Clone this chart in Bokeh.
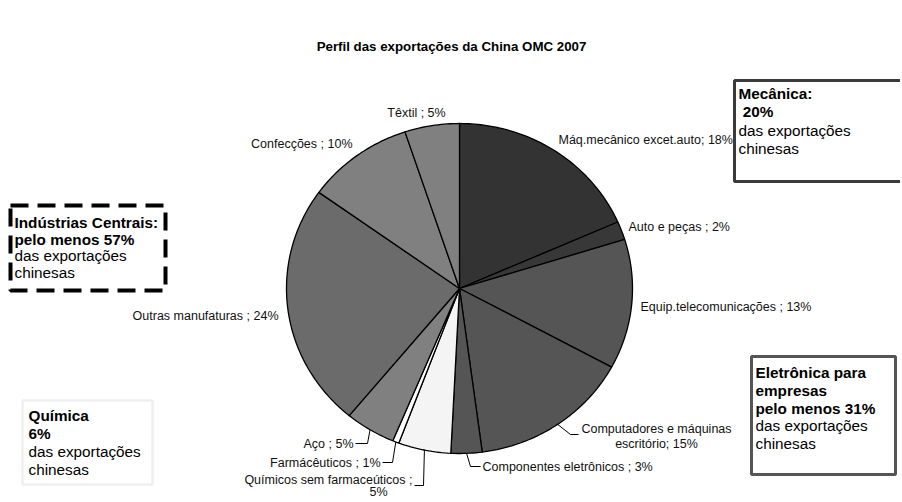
import math
from bokeh.plotting import figure
from bokeh.models import Range1d
from bokeh.core.properties import value
from bokeh.embed import file_html
from bokeh.resources import INLINE

# ---------------- data ----------------
categories = ["Máq.mecânico excet.auto", "Auto e peças ", "Equip.telecomunicações ",
              "Computadores e máquinas escritório", "Componentes eletrônicos ",
              "Químicos sem farmaceúticos ", "Farmácêuticos ", "Aço ",
              "Outras manufaturas ", "Confecções ", "Têxtil "]
shares = [18.4, 1.8, 12.7, 15.0, 2.9, 4.9, 0.6, 4.7, 23.9, 10.0, 5.1]
colors = ["#333333", "#383838", "#555555", "#555555", "#555555", "#f4f4f4",
          "#ffffff", "#808080", "#6b6b6b", "#808080", "#808080"]
title = "Perfil das exportações da China OMC 2007"

boxes_lines = [
    [("Mecânica:", "bold"), ("\u00a020%", "bold"), ("das exportações", "normal"), ("chinesas", "normal")],
    [("Indústrias Centrais:", "bold"), ("pelo menos 57%", "bold"), ("das exportações", "normal"), ("chinesas", "normal")],
    [("Eletrônica para", "bold"), ("empresas", "bold"), ("pelo menos 31%", "bold"), ("das exportações", "normal"), ("chinesas", "normal")],
    [("Química", "bold"), ("6%", "bold"), ("das exportações", "normal"), ("chinesas", "normal")],
]

# ---------------- layout (page pixel coordinates) ----------------
W, H = 900, 500
CX, CY, RX, RY = 459, 288, 173, 165
FONT = value("Liberation Sans")
LBL = "12.5px"
BOXFONT = "15.3px"

label_layout = {
    0: [(558, 139, "left")],
    1: [(628, 226, "left")],
    2: [(640, 306, "left")],
    3: [(656, 428, "center"), (656, 443, "center")],
    4: [(482, 466, "left")],
    5: [(412, 479, "right"), (378, 491.5, "center")],
    6: [(380, 462, "right")],
    7: [(353, 443, "right")],
    8: [(278, 315, "right")],
    9: [(352, 143, "right")],
    10: [(416, 112, "center")],
}
leader_elbows = {
    3: [(570, 434), (578, 434)],
    4: [(470, 466), (480, 466)],
    5: [(423, 485), (414, 485)],
    6: [(392, 462), (382, 462)],
    7: [(367, 443), (355, 443)],
}
box_rects = [  # left, top, right, bottom, color, width, dash
    (734, 80, 906, 181, "#3a3a3a", 3, "solid"),
    (10, 205, 165, 290, "#000000", 4, "18 9"),
    (751, 356, 895, 474, "#555555", 3, "solid"),
    (22, 400, 152, 484, "#efefef", 2.5, "solid"),
]
box_text = [  # x, first line y, line spacing
    (738, 93, 18.3),
    (14, 222, 16.5),
    (755, 372, 17.8),
    (28, 415, 18),
]

p = figure(width=W, height=H, output_backend="svg", toolbar_location=None,
           x_range=Range1d(0, W), y_range=Range1d(H, 0),
           min_border=0, outline_line_color=None)
p.axis.visible = False
p.grid.visible = False
p.background_fill_color = "white"
p.border_fill_color = "white"

# ---------------- pie ----------------
total = sum(shares)
cum = 0.0
xs, ys, mids = [], [], []
for s in shares:
    a0 = cum / total * 2 * math.pi
    a1 = (cum + s) / total * 2 * math.pi
    n = max(3, int((a1 - a0) / (2 * math.pi) * 360))
    px = [CX]
    py = [CY]
    for k in range(n + 1):
        t = a0 + (a1 - a0) * k / n
        px.append(CX + RX * math.sin(t))
        py.append(CY - RY * math.cos(t))
    xs.append(px)
    ys.append(py)
    tm = (a0 + a1) / 2
    mids.append((CX + RX * math.sin(tm), CY - RY * math.cos(tm)))
    cum += s
p.patches(xs, ys, fill_color=colors, line_color="black", line_width=1.3)

# ---------------- labels ----------------
tx, ty, tt, ta = [], [], [], []
for i, (name, s) in enumerate(zip(categories, shares)):
    sep = "; " if name.endswith(" ") or i == 0 else " ; "
    pct = f"{round(s)}%"
    full = f"{name}{sep}{pct}"
    pos = label_layout[i]
    if i == 3:
        lines = ["Computadores e máquinas", f"escritório; {pct}"]
    elif i == 5:
        lines = [f"{name};", pct]
    else:
        lines = [full]
    for line, (x, y, al) in zip(lines, pos):
        tx.append(x); ty.append(y); tt.append(line); ta.append(al)
for al in ("left", "center", "right"):
    idx = [k for k in range(len(tt)) if ta[k] == al]
    p.text([tx[k] for k in idx], [ty[k] for k in idx], text=[tt[k] for k in idx],
           text_font=FONT, text_font_size=LBL, text_color="#111111",
           text_align=al, text_baseline="middle")

lx, ly = [], []
for i, elbows in leader_elbows.items():
    mx, my = mids[i]
    lx.append([mx] + [e[0] for e in elbows])
    ly.append([my] + [e[1] for e in elbows])
p.multi_line(lx, ly, line_color="black", line_width=1)

# ---------------- title ----------------
p.text([451], [46], text=[title], text_font=FONT, text_font_size="13.3px",
       text_font_style="bold", text_align="center", text_baseline="middle", text_color="black")

# ---------------- boxes ----------------
for (l, t, r, b, c, w, d), (x0, y0, dy), lines in zip(box_rects, box_text, boxes_lines):
    p.quad(left=[l], right=[r], top=[t], bottom=[b], fill_color="white",
           line_color=c, line_width=w, line_dash=d)
    for j, (txt, style) in enumerate(lines):
        p.text([x0], [y0 + j * dy], text=[txt], text_font=FONT, text_font_size=BOXFONT,
               text_font_style=style, text_align="left", text_baseline="middle", text_color="black")

open("out.html", "w").write(file_html(p, INLINE))
